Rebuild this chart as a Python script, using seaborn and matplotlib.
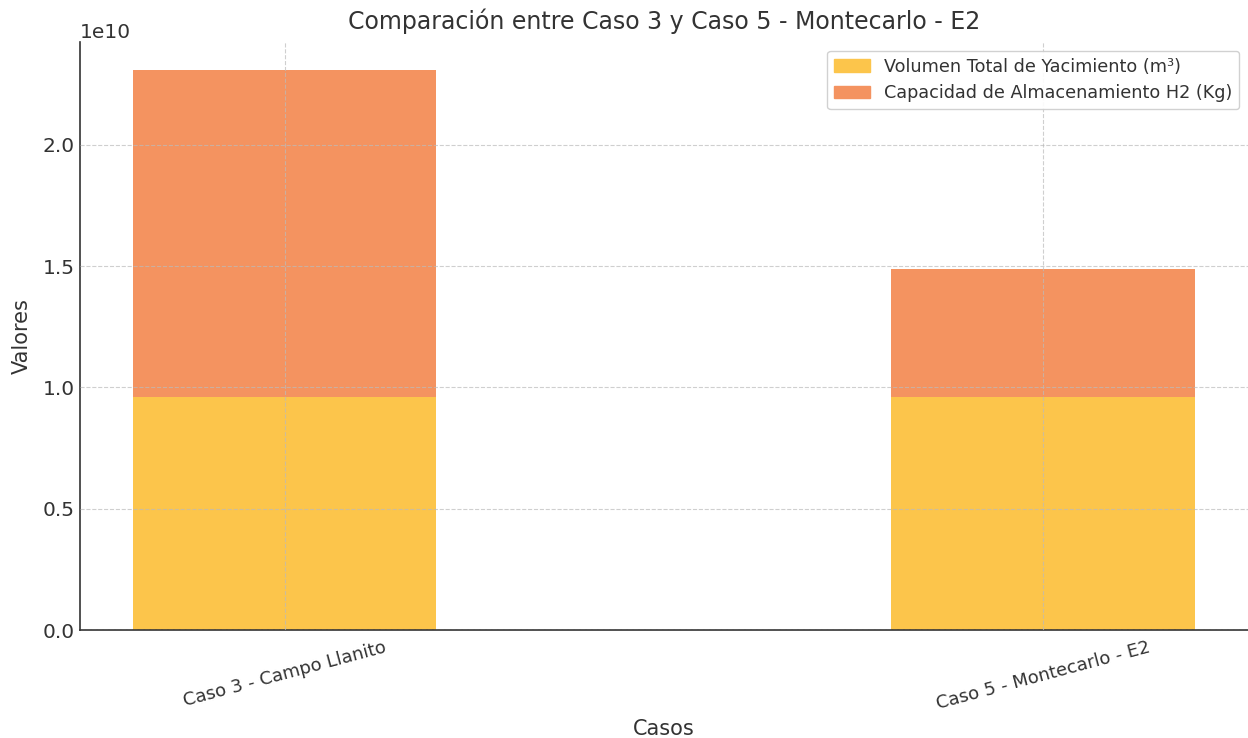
import pandas as pd
import matplotlib
matplotlib.use("Agg")
import matplotlib.pyplot as plt
from matplotlib.patches import Patch
import seaborn as sns

casos = ["Caso 3 - Campo Llanito", "Caso 5 - Montecarlo - E2"]
volumen_total = [9.59e9, 9.59e9]
capacidad_h2 = [1.350e10, 0.529e10]

color_vol = "#FCC54B"
color_cap = "#F49360"

sns.set_style("white")
plt.rcParams["font.family"] = ["DejaVu Sans"]
plt.rcParams["text.color"] = "#333333"
plt.rcParams["axes.labelcolor"] = "#333333"
plt.rcParams["xtick.color"] = "#333333"
plt.rcParams["ytick.color"] = "#333333"

df = pd.DataFrame({"caso": casos, "vol": volumen_total, "cap": capacidad_h2})
df["total"] = df["vol"] + df["cap"]

fig, ax = plt.subplots(figsize=(12.48, 7.38), dpi=100)
fig.subplots_adjust(left=0.064, right=1.0, bottom=0.146, top=0.9435)

# stacked: total first (orange), volume on top of it (yellow)
sns.barplot(data=df, x="caso", y="total", color=color_cap, width=0.4,
            saturation=1, linewidth=0, ax=ax)
sns.barplot(data=df, x="caso", y="vol", color=color_vol, width=0.4,
            saturation=1, linewidth=0, ax=ax)

ax.set_xlim(-0.27, 1.27)
ax.set_ylim(0, df["total"].max() * 1.05)
ax.set_title("Comparación entre Caso 3 y Caso 5 - Montecarlo - E2",
             fontsize=17, pad=9)
ax.set_xlabel("Casos", fontsize=15, labelpad=4)
ax.set_ylabel("Valores", fontsize=15, labelpad=8)
ax.tick_params(axis="both", direction="in", length=4)
ax.tick_params(axis="y", labelsize=14.5)
ax.tick_params(axis="x", labelsize=13, pad=6)
ax.yaxis.get_offset_text().set_fontsize(14.5)
plt.setp(ax.get_xticklabels(), rotation=15)

ax.grid(True, linestyle="--", color="#bbbbbb", linewidth=0.8, alpha=0.7)
ax.set_axisbelow(False)
sns.despine(ax=ax)
for s in ["left", "bottom"]:
    ax.spines[s].set_color("#333333")
    ax.spines[s].set_linewidth(1.2)

handles = [Patch(color=color_vol, label="Volumen Total de Yacimiento (m³)"),
           Patch(color=color_cap, label="Capacidad de Almacenamiento H2 (Kg)")]
ax.legend(handles=handles, loc="upper right", fontsize=12.7, framealpha=0.9)

fig.savefig("out.png", dpi=100)
